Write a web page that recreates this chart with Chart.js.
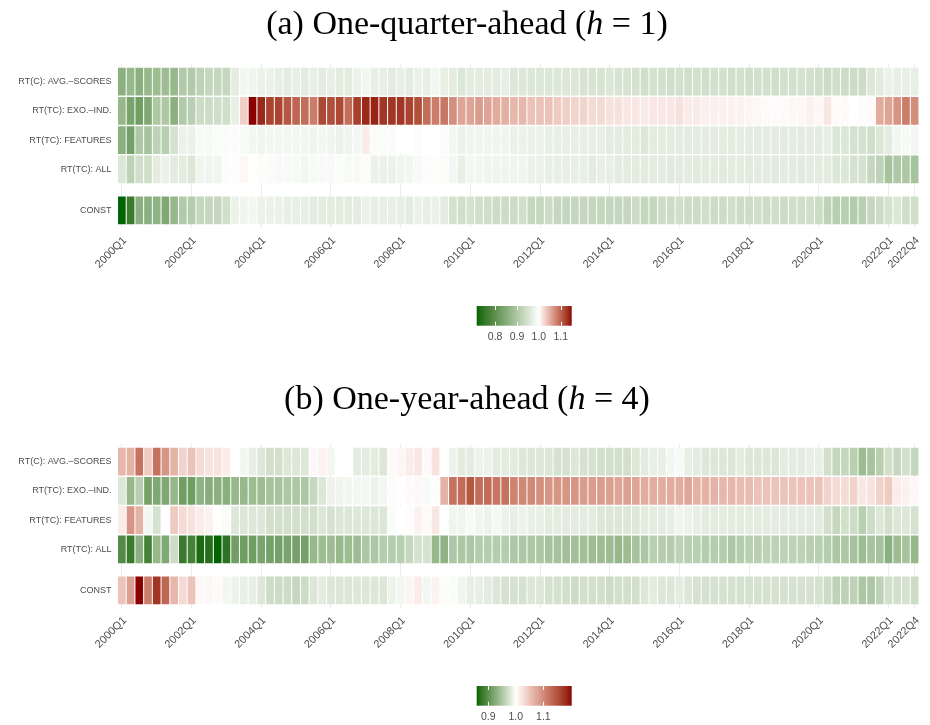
<!DOCTYPE html>
<html>
<head>
<meta charset="utf-8">
<script src="https://cdn.jsdelivr.net/npm/chart.js@4.4.0/dist/chart.umd.min.js"></script>
<style>
  html, body { margin: 0; padding: 0; background: #fff; }
  #page { position: relative; width: 930px; height: 725px; overflow: hidden; }
  .box { position: absolute; }
</style>
</head>
<body>
<div id="page">
  <div class="box" style="left:0;top:0;width:930px;height:300px"><canvas id="heatA"></canvas></div>
  <div class="box" style="left:440px;top:295px;width:170px;height:55px"><canvas id="barA"></canvas></div>
  <div class="box" style="left:0;top:380px;width:930px;height:300px"><canvas id="heatB"></canvas></div>
  <div class="box" style="left:440px;top:675px;width:170px;height:50px"><canvas id="barB"></canvas></div>
</div>
<script>
// Quarters 2000Q1 .. 2022Q4 (x categories)
const quarters = [];
for (let y = 2000; y <= 2022; y++) {
    for (let q = 1; q <= 4; q++) quarters.push(y + 'Q' + q);
}
const tickLabels = ['2000Q1', '2002Q1', '2004Q1', '2006Q1', '2008Q1', '2010Q1', '2012Q1',
    '2014Q1', '2016Q1', '2018Q1', '2020Q1', '2022Q1', '2022Q4'];
const rowLabels = ['RT(C): AVG.\u2013SCORES', 'RT(TC): EXO.\u2013IND.', 'RT(TC): FEATURES', 'RT(TC): ALL', 'CONST'];
const barTicksA = [0.8, 0.9, 1.0, 1.1];
const barTicksB = [0.9, 1.0, 1.1];

// (a) one-quarter-ahead, relative values
const h1Avg = [
    0.858, 0.872, 0.858, 0.872, 0.881, 0.881, 0.872, 0.906, 0.906, 0.920,
    0.929, 0.929, 0.929, 0.966, 0.986, 0.983, 0.977, 0.977, 0.972, 0.966,
    0.972, 0.966, 0.972, 0.966, 0.972, 0.966, 0.966, 0.977, 0.986, 0.972,
    0.972, 0.966, 0.972, 0.966, 0.977, 0.972, 0.986, 0.972, 0.966, 0.957,
    0.966, 0.966, 0.966, 0.966, 0.972, 0.957, 0.957, 0.957, 0.957, 0.957,
    0.957, 0.957, 0.957, 0.952, 0.952, 0.952, 0.957, 0.952, 0.952, 0.949,
    0.943, 0.949, 0.946, 0.943, 0.946, 0.943, 0.946, 0.943, 0.946, 0.946,
    0.943, 0.946, 0.943, 0.946, 0.946, 0.943, 0.946, 0.946, 0.949, 0.946,
    0.943, 0.938, 0.943, 0.938, 0.938, 0.938, 0.957, 0.966, 0.977, 0.972,
    0.972, 0.972];
const h1Exo = [
    0.872, 0.835, 0.824, 0.844, 0.901, 0.901, 0.858, 0.906, 0.915, 0.938,
    0.938, 0.943, 0.943, 0.972, 1.030, 1.150, 1.135, 1.120, 1.120, 1.108,
    1.098, 1.093, 1.083, 1.117, 1.113, 1.117, 1.093, 1.123, 1.135, 1.138,
    1.128, 1.128, 1.128, 1.120, 1.113, 1.093, 1.083, 1.087, 1.072, 1.057,
    1.057, 1.063, 1.057, 1.053, 1.050, 1.045, 1.045, 1.038, 1.038, 1.038,
    1.033, 1.030, 1.027, 1.027, 1.023, 1.023, 1.018, 1.018, 1.015, 1.015,
    1.012, 1.015, 1.015, 1.015, 1.018, 1.012, 1.012, 1.009, 1.009, 1.009,
    1.008, 1.008, 1.006, 1.005, 1.003, 1.002, 1.003, 1.005, 1.005, 1.008,
    1.005, 1.015, 1.002, 1.003, 1.000, 1.002, 1.003, 1.053, 1.057, 1.068,
    1.083, 1.072];
const h1Features = [
    0.858, 0.830, 0.901, 0.892, 0.920, 0.915, 0.949, 0.977, 0.977, 0.991,
    0.991, 0.994, 0.994, 0.994, 0.991, 0.986, 0.983, 0.986, 0.986, 0.986,
    0.986, 0.986, 0.983, 0.986, 0.983, 0.977, 0.983, 0.986, 1.012, 0.994,
    0.994, 0.994, 1.000, 1.000, 1.002, 1.000, 1.000, 0.994, 0.986, 0.977,
    0.983, 0.983, 0.983, 0.983, 0.983, 0.977, 0.977, 0.977, 0.977, 0.972,
    0.972, 0.972, 0.972, 0.972, 0.972, 0.972, 0.966, 0.966, 0.966, 0.966,
    0.957, 0.966, 0.966, 0.966, 0.969, 0.966, 0.966, 0.969, 0.966, 0.966,
    0.966, 0.969, 0.966, 0.966, 0.969, 0.966, 0.966, 0.969, 0.966, 0.969,
    0.966, 0.972, 0.957, 0.957, 0.949, 0.949, 0.943, 0.957, 0.966, 0.986,
    0.991, 0.986];
const h1All = [
    0.957, 0.920, 0.943, 0.943, 0.966, 0.977, 0.966, 0.966, 0.957, 0.983,
    0.983, 0.983, 1.002, 0.997, 1.005, 1.000, 1.002, 0.994, 0.991, 0.991,
    0.991, 0.986, 0.991, 0.991, 0.991, 0.994, 0.991, 0.991, 1.002, 0.977,
    0.977, 0.977, 0.983, 0.986, 0.991, 1.002, 0.997, 0.994, 0.986, 0.972,
    0.986, 0.986, 0.983, 0.983, 0.983, 0.983, 0.983, 0.977, 0.977, 0.972,
    0.972, 0.972, 0.972, 0.972, 0.966, 0.972, 0.972, 0.966, 0.966, 0.966,
    0.966, 0.966, 0.966, 0.963, 0.966, 0.966, 0.963, 0.966, 0.966, 0.963,
    0.966, 0.966, 0.963, 0.966, 0.966, 0.963, 0.966, 0.966, 0.963, 0.966,
    0.966, 0.966, 0.957, 0.957, 0.949, 0.949, 0.929, 0.920, 0.892, 0.901,
    0.901, 0.892];
const h1Const = [
    0.716, 0.759, 0.858, 0.858, 0.864, 0.844, 0.872, 0.906, 0.909, 0.929,
    0.929, 0.929, 0.943, 0.977, 0.983, 0.986, 0.977, 0.977, 0.977, 0.972,
    0.972, 0.972, 0.966, 0.966, 0.966, 0.966, 0.966, 0.966, 0.977, 0.972,
    0.972, 0.972, 0.972, 0.966, 0.977, 0.972, 0.977, 0.966, 0.949, 0.943,
    0.949, 0.943, 0.943, 0.938, 0.938, 0.938, 0.943, 0.929, 0.929, 0.938,
    0.929, 0.929, 0.929, 0.929, 0.929, 0.929, 0.929, 0.929, 0.929, 0.938,
    0.929, 0.929, 0.938, 0.938, 0.943, 0.938, 0.938, 0.943, 0.938, 0.938,
    0.943, 0.938, 0.938, 0.943, 0.938, 0.943, 0.938, 0.943, 0.943, 0.943,
    0.938, 0.920, 0.915, 0.915, 0.909, 0.915, 0.929, 0.938, 0.949, 0.957,
    0.943, 0.943];

// (b) one-year-ahead, relative values
const h4Avg = [
    1.061, 1.065, 1.122, 1.045, 1.122, 1.091, 1.065, 1.037, 1.051, 1.030,
    1.024, 1.024, 1.016, 1.000, 0.993, 0.986, 0.979, 0.972, 0.972, 0.979,
    0.979, 0.979, 1.006, 1.010, 0.993, 1.000, 1.000, 0.983, 0.983, 0.983,
    0.979, 1.004, 1.008, 1.016, 1.020, 1.004, 1.024, 1.000, 0.989, 0.983,
    0.983, 0.989, 0.989, 0.983, 0.983, 0.983, 0.979, 0.979, 0.979, 0.979,
    0.974, 0.974, 0.979, 0.974, 0.974, 0.972, 0.972, 0.972, 0.972, 0.979,
    0.983, 0.986, 0.986, 0.993, 0.996, 0.986, 0.983, 0.979, 0.979, 0.979,
    0.979, 0.983, 0.979, 0.979, 0.979, 0.979, 0.983, 0.983, 0.983, 0.986,
    0.986, 0.972, 0.965, 0.965, 0.957, 0.940, 0.946, 0.957, 0.972, 0.965,
    0.972, 0.965];
const h4Exo = [
    0.979, 0.936, 0.957, 0.915, 0.922, 0.922, 0.936, 0.912, 0.912, 0.932,
    0.926, 0.929, 0.929, 0.936, 0.936, 0.940, 0.940, 0.946, 0.946, 0.950,
    0.950, 0.950, 0.965, 0.979, 0.989, 0.991, 0.993, 0.993, 0.993, 0.989,
    0.993, 0.998, 1.000, 1.004, 1.006, 0.996, 0.998, 1.065, 1.122, 1.126,
    1.146, 1.126, 1.126, 1.118, 1.122, 1.106, 1.102, 1.102, 1.097, 1.091,
    1.091, 1.091, 1.091, 1.085, 1.085, 1.085, 1.081, 1.077, 1.081, 1.077,
    1.071, 1.071, 1.071, 1.071, 1.071, 1.077, 1.065, 1.065, 1.065, 1.061,
    1.061, 1.057, 1.057, 1.051, 1.051, 1.051, 1.051, 1.051, 1.051, 1.051,
    1.051, 1.037, 1.030, 1.030, 1.037, 1.020, 1.024, 1.037, 1.045, 1.016,
    1.012, 1.006];
const h4Features = [
    1.016, 1.091, 1.065, 0.993, 0.974, 1.000, 1.045, 1.030, 1.024, 1.016,
    1.010, 1.000, 0.997, 0.979, 0.979, 0.979, 0.979, 0.972, 0.972, 0.972,
    0.972, 0.972, 0.972, 0.979, 0.974, 0.979, 0.979, 0.979, 0.979, 0.979,
    0.979, 0.997, 1.000, 1.002, 1.010, 1.004, 1.020, 1.000, 0.991, 0.991,
    0.996, 0.991, 0.989, 0.994, 0.989, 0.986, 0.989, 0.986, 0.986, 0.983,
    0.983, 0.983, 0.983, 0.983, 0.983, 0.979, 0.979, 0.979, 0.979, 0.979,
    0.983, 0.983, 0.983, 0.986, 0.991, 0.989, 0.986, 0.983, 0.983, 0.983,
    0.983, 0.983, 0.983, 0.983, 0.983, 0.983, 0.983, 0.983, 0.983, 0.983,
    0.983, 0.972, 0.965, 0.972, 0.969, 0.957, 0.969, 0.979, 0.972, 0.979,
    0.979, 0.974];
const h4All = [
    0.894, 0.879, 0.929, 0.886, 0.936, 0.922, 0.969, 0.879, 0.886, 0.865,
    0.869, 0.858, 0.872, 0.912, 0.912, 0.912, 0.918, 0.915, 0.915, 0.918,
    0.915, 0.915, 0.936, 0.940, 0.940, 0.936, 0.940, 0.940, 0.950, 0.950,
    0.955, 0.955, 0.957, 0.965, 0.974, 0.974, 0.936, 0.932, 0.950, 0.950,
    0.950, 0.955, 0.955, 0.955, 0.955, 0.950, 0.950, 0.950, 0.950, 0.946,
    0.946, 0.943, 0.943, 0.943, 0.940, 0.940, 0.940, 0.936, 0.940, 0.946,
    0.950, 0.957, 0.955, 0.955, 0.960, 0.957, 0.957, 0.955, 0.955, 0.955,
    0.950, 0.955, 0.957, 0.957, 0.960, 0.960, 0.960, 0.960, 0.960, 0.957,
    0.957, 0.955, 0.950, 0.950, 0.946, 0.940, 0.946, 0.946, 0.929, 0.940,
    0.946, 0.936];
const h4Const = [
    1.051, 1.081, 1.203, 1.112, 1.173, 1.132, 1.061, 1.030, 1.051, 1.006,
    1.006, 1.004, 0.993, 0.989, 0.986, 0.986, 0.979, 0.969, 0.969, 0.969,
    0.965, 0.969, 0.979, 0.983, 0.979, 0.979, 0.979, 0.979, 0.979, 0.979,
    0.979, 0.989, 0.993, 1.008, 1.016, 0.993, 1.010, 0.998, 0.997, 0.991,
    0.986, 0.986, 0.983, 0.979, 0.974, 0.974, 0.974, 0.979, 0.979, 0.974,
    0.974, 0.972, 0.969, 0.972, 0.972, 0.972, 0.969, 0.972, 0.972, 0.972,
    0.979, 0.983, 0.979, 0.979, 0.983, 0.979, 0.974, 0.974, 0.974, 0.974,
    0.974, 0.974, 0.974, 0.974, 0.974, 0.974, 0.974, 0.974, 0.974, 0.974,
    0.974, 0.969, 0.960, 0.960, 0.960, 0.950, 0.950, 0.960, 0.972, 0.972,
    0.974, 0.969];

// ---- colour scale: darkgreen - white - darkred, interpolated in CIELAB ----
function toLinear(c) {
    c /= 255;
    return c <= 0.04045 ? c / 12.92 : Math.pow((c + 0.055) / 1.055, 2.4);
}
function fromLinear(c) {
    const v = c <= 0.0031308 ? 12.92 * c : 1.055 * Math.pow(c, 1 / 2.4) - 0.055;
    return Math.round(Math.max(0, Math.min(1, v)) * 255);
}
function rgbToLab(rgb) {
    const [r, g, b] = rgb.map(toLinear);
    const x = (0.4124 * r + 0.3576 * g + 0.1805 * b) / 0.95047;
    const y = 0.2126 * r + 0.7152 * g + 0.0722 * b;
    const z = (0.0193 * r + 0.1192 * g + 0.9505 * b) / 1.08883;
    const f = t => t > 0.008856 ? Math.cbrt(t) : 7.787 * t + 16 / 116;
    return [116 * f(y) - 16, 500 * (f(x) - f(y)), 200 * (f(y) - f(z))];
}
function labToRgb([L, a, b]) {
    const fy = (L + 16) / 116, fx = fy + a / 500, fz = fy - b / 200;
    const inv = t => t * t * t > 0.008856 ? t * t * t : (t - 16 / 116) / 7.787;
    const x = inv(fx) * 0.95047, y = inv(fy), z = inv(fz) * 1.08883;
    const r = 3.2406 * x - 1.5372 * y - 0.4986 * z;
    const g = -0.9689 * x + 1.8758 * y + 0.0415 * z;
    const bb = 0.0557 * x - 0.2040 * y + 1.0570 * z;
    return [fromLinear(r), fromLinear(g), fromLinear(bb)];
}
const LAB_LOW = rgbToLab([0, 100, 0]);
const LAB_MID = rgbToLab([255, 255, 255]);
const LAB_HIGH = rgbToLab([139, 0, 0]);

function makeColour(lo, hi) {
    return v => {
        let end, t;
        if (v < 1) { end = LAB_LOW; t = (1 - v) / (1 - lo); } else { end = LAB_HIGH; t = (v - 1) / (hi - 1); }
        t = Math.max(0, Math.min(1, t));
        const lab = LAB_MID.map((m, i) => m + (end[i] - m) * t);
        const [r, g, b] = labToRgb(lab);
        return `rgb(${r},${g},${b})`;
    };
}

// ---- plugins ----
const panelTitle = {
    id: 'panelTitle',
    afterDraw(chart, args, opts) {
        const ctx = chart.ctx;
        ctx.save();
        ctx.fillStyle = '#000';
        ctx.textBaseline = 'alphabetic';
        const font = p => (p.italic ? 'italic ' : '') + opts.size + 'px "Liberation Serif", serif';
        let total = 0;
        opts.parts.forEach(p => { ctx.font = font(p); total += ctx.measureText(p.text).width; });
        let x = opts.centerX - total / 2;
        opts.parts.forEach(p => {
            ctx.font = font(p);
            ctx.fillText(p.text, x, opts.baseline);
            x += ctx.measureText(p.text).width;
        });
        ctx.restore();
    }
};

const colourBar = {
    id: 'colourBar',
    beforeDatasetsDraw(chart, args, opts) {
        const { ctx, chartArea: a, scales: { x } } = chart;
        const grad = ctx.createLinearGradient(a.left, 0, a.right, 0);
        for (let i = 0; i <= 80; i++) {
            grad.addColorStop(i / 80, opts.colour(x.min + (x.max - x.min) * i / 80));
        }
        ctx.save();
        ctx.fillStyle = grad;
        ctx.fillRect(a.left, a.top, a.width, a.height);
        ctx.strokeStyle = '#fff';
        ctx.lineWidth = 1;
        x.ticks.forEach(t => {
            const px = Math.round(x.getPixelForValue(t.value)) + 0.5;
            ctx.beginPath();
            ctx.moveTo(px, a.top);
            ctx.lineTo(px, a.top + a.height * 0.2);
            ctx.moveTo(px, a.bottom - a.height * 0.2);
            ctx.lineTo(px, a.bottom);
            ctx.stroke();
        });
        ctx.restore();
    }
};

// ---- builders ----
const rowCenters = [4.4, 3.4, 2.4, 1.4, 0];
const shown = new Set(tickLabels);
const axisGrey = '#4d4d4d';

function buildHeatmap(canvasId, rows, titleParts, titleBaseline) {
    const all = rows.flat();
    const colour = makeColour(Math.min(...all), Math.max(...all));
    return new Chart(document.getElementById(canvasId), {
        type: 'bar',
        data: {
            labels: quarters,
            datasets: rows.map((vals, i) => ({
                label: rowLabels[i],
                data: quarters.map(() => [rowCenters[i] - 0.475, rowCenters[i] + 0.475]),
                backgroundColor: vals.map(colour),
                borderWidth: 0,
                grouped: false,
                barPercentage: 0.88,
                categoryPercentage: 1.0
            }))
        },
        options: {
            responsive: true,
            maintainAspectRatio: false,
            animation: false,
            layout: { padding: { top: 64, right: 5.5, left: 0, bottom: 0 } },
            plugins: {
                legend: { display: false },
                tooltip: { enabled: false },
                panelTitle: { parts: titleParts, size: 34, centerX: 467, baseline: titleBaseline }
            },
            scales: {
                x: {
                    type: 'category',
                    offset: true,
                    border: { display: false },
                    grid: {
                        offset: false,
                        drawTicks: false,
                        color: c => shown.has(quarters[c.index]) ? '#ebebeb' : 'rgba(0,0,0,0)'
                    },
                    ticks: {
                        autoSkip: false,
                        minRotation: 45,
                        maxRotation: 45,
                        padding: 6,
                        labelOffset: 3,
                        color: axisGrey,
                        font: { family: 'Liberation Sans', size: 11 },
                        callback: (v, i) => shown.has(quarters[i]) ? quarters[i] : ''
                    },
                    afterFit: s => { s.height = 72; }
                },
                y: {
                    type: 'linear',
                    min: -0.6,
                    max: 5.0,
                    border: { display: false },
                    grid: { color: '#ebebeb', drawTicks: false },
                    afterBuildTicks: s => { s.ticks = rowCenters.map(v => ({ value: v })); },
                    ticks: {
                        padding: 6,
                        color: axisGrey,
                        font: { family: 'Liberation Sans', size: 9 },
                        callback: v => rowLabels[rowCenters.indexOf(v)]
                    },
                    afterFit: s => { s.width = 117.5; }
                }
            }
        },
        plugins: [panelTitle]
    });
}

function buildColourBar(canvasId, rows, ticks, heightPx) {
    const all = rows.flat();
    const lo = Math.min(...all), hi = Math.max(...all);
    return new Chart(document.getElementById(canvasId), {
        type: 'scatter',
        data: { datasets: [] },
        options: {
            responsive: true,
            maintainAspectRatio: false,
            animation: false,
            layout: { padding: { left: 36.7, right: 38.3, top: 11, bottom: heightPx - 30.7 - 18 } },
            plugins: {
                legend: { display: false },
                tooltip: { enabled: false },
                colourBar: { colour: makeColour(lo, hi) }
            },
            scales: {
                x: {
                    type: 'linear',
                    min: lo,
                    max: hi,
                    border: { display: false },
                    grid: { display: false, drawTicks: false },
                    afterBuildTicks: s => { s.ticks = ticks.map(v => ({ value: v })); },
                    ticks: {
                        padding: 5,
                        color: axisGrey,
                        font: { family: 'Liberation Sans', size: 10.5 },
                        callback: v => v.toFixed(1)
                    },
                    afterFit: s => { s.height = 18; }
                },
                y: { display: false, min: 0, max: 1 }
            }
        },
        plugins: [colourBar]
    });
}

const rowsA = [h1Avg, h1Exo, h1Features, h1All, h1Const];
const rowsB = [h4Avg, h4Exo, h4Features, h4All, h4Const];

buildHeatmap('heatA', rowsA, [
    { text: '(a) One-quarter-ahead (' },
    { text: 'h', italic: true },
    { text: ' = 1)' }
], 34);
buildColourBar('barA', rowsA, barTicksA, 55);

buildHeatmap('heatB', rowsB, [
    { text: '(b) One-year-ahead (' },
    { text: 'h', italic: true },
    { text: ' = 4)' }
], 29);
buildColourBar('barB', rowsB, barTicksB, 50);
</script>
</body>
</html>
